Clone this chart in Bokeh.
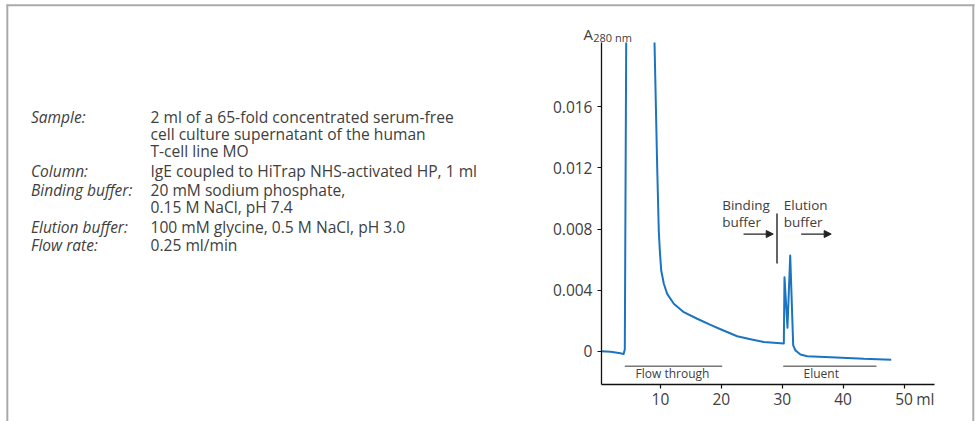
import numpy as np
from bokeh.plotting import figure
from bokeh.models import Range1d, FixedTicker, LinearAxis, Arrow, NormalHead
from bokeh.embed import file_html
from bokeh.resources import INLINE
from bokeh.core.properties import value

# ---------------- data ----------------
volume_ml = [0.31, 1.8, 3.43, 3.93, 4.14, 4.37, float("nan"), 9.02, 9.46, 9.72, 9.89,
             10.12, 10.55, 11.1, 12.19, 13.83, 16.03, 18.22, 19.86, 22.6, 24.79, 26.97, 30.26,
             30.37, 30.86, 31.31, 31.8, 32.18, 33.0, 34.1, 37.93, 43.4, 47.9]
a280 = [-0.00001, -0.00005, -0.00014, -0.0002, 0.0001, 0.02022, float("nan"), 0.02022,
        0.01205, 0.0079, 0.00659, 0.00528, 0.00441, 0.00375, 0.0031, 0.00255, 0.00212,
        0.00172, 0.00143, 0.00097, 0.00078, 0.0006, 0.0005,
        0.00484, 0.00153, 0.00626, 0.00037, 0.00004, -0.00022, -0.00034, -0.0004,
        -0.00051, -0.00056]

x_ticks = [10, 20, 30, 40, 50]
x_tick_labels = ["10", "20", "30", "40", "50"]
y_ticks = [0, 0.004, 0.008, 0.012, 0.016]
y_tick_labels = ["0", "0.004", "0.008", "0.012", "0.016"]

x_axis_bounds = (0.31, 55.0)          # ml
y_axis_bounds = (-0.00219, 0.02022)   # A280

flow_through = (4.14, 20.14)   # ml
eluent = (30.16, 45.48)        # ml
buffer_switch = 29.14          # ml

info_labels = ["Sample:", "Column:", "Binding buffer:", "Elution buffer:", "Flow rate:"]
info_values = [
    ["2 ml of a 65-fold concentrated serum-free", "cell culture supernatant of the human", "T-cell line MO"],
    ["IgE coupled to HiTrap NHS-activated HP, 1 ml"],
    ["20 mM sodium phosphate,", "0.15 M NaCl, pH 7.4"],
    ["100 mM glycine, 0.5 M NaCl, pH 3.0"],
    ["0.25 ml/min"],
]

# ---------------- layout constants ----------------
W, H = 975, 421
FONT = "Open Sans"
TXT = "#404040"
BLUE = "#1b74c0"
# chart scale: pixel position of ml = 0 and px per ml; pixel of A=0.008 and px per unit
X0_PX, PX_PER_ML = 599.1, 6.088
Y8_PX, PX_PER_A = 228.5, 15260.0

ml_range = Range1d((0 - X0_PX) / PX_PER_ML, (W - X0_PX) / PX_PER_ML)
a_range = Range1d(0.008 - (H - Y8_PX) / PX_PER_A, 0.008 + Y8_PX / PX_PER_A)

p = figure(width=W, height=H, x_range=Range1d(0, W), y_range=Range1d(H, 0),
           x_axis_type=None, y_axis_type=None, output_backend="svg",
           toolbar_location=None, min_border=0)
p.title.visible = False
p.grid.visible = False
p.outline_line_color = None
p.extra_x_ranges = {"ml": ml_range}
p.extra_y_ranges = {"abs": a_range}

# frame of the panel
p.segment(x0=[6, 6.8, 972.8], y0=[4.8, 4, 4], x1=[974, 6.8, 972.8], y1=[4.8, H, H],
          line_color="#ababab", line_width=2)

# ---- info text (left) ----
line_y = [116.7, 133.3, 150.3, 170.8, 189.2, 206.7, 226.3, 244.0]
k = 0
lx, ly, vx, vy, vt = [], [], [], [], []
for lab, vals in zip(info_labels, info_values):
    lx.append(30.5); ly.append(line_y[k])
    for v in vals:
        vx.append(150); vy.append(line_y[k]); vt.append(v)
        k += 1
p.text(x=lx, y=ly, text=info_labels, text_font=value(FONT), text_font_style="italic",
       text_font_size="15.5px", text_color=TXT, text_baseline="middle")
p.text(x=vx, y=vy, text=vt, text_font=value(FONT),
       text_font_size="15.6px", text_color=TXT, text_baseline="middle")

# ---- axes ----
xax = LinearAxis(x_range_name="ml", y_range_name="abs", fixed_location=y_axis_bounds[0],
                 bounds=x_axis_bounds, ticker=FixedTicker(ticks=x_ticks))
xax.major_label_overrides = dict(zip(x_ticks, x_tick_labels))
yax = LinearAxis(x_range_name="ml", y_range_name="abs", fixed_location=x_axis_bounds[0],
                 bounds=y_axis_bounds, ticker=FixedTicker(ticks=y_ticks))
yax.major_label_overrides = dict(zip(y_ticks, y_tick_labels))
for ax in (xax, yax):
    ax.axis_line_color = "#111111"
    ax.axis_line_width = 1.3
    ax.major_tick_line_color = "#111111"
    ax.major_tick_line_width = 1.2
    ax.major_tick_in = 0
    ax.major_tick_out = 4
    ax.minor_tick_line_color = None
    ax.major_label_text_font = FONT
    ax.major_label_text_font_size = "15.5px"
    ax.major_label_text_color = TXT
    ax.major_label_standoff = 5
p.add_layout(xax, "below")
p.add_layout(yax, "left")

# ---- chromatogram ----
p.line(np.array(volume_ml, dtype=float), np.array(a280, dtype=float),
       x_range_name="ml", y_range_name="abs", line_color=BLUE, line_width=2,
       line_join="round")

# flow through / eluent bars
bar_y = -0.00099
p.segment(x0=[flow_through[0], eluent[0]], y0=[bar_y, bar_y],
          x1=[flow_through[1], eluent[1]], y1=[bar_y, bar_y],
          x_range_name="ml", y_range_name="abs", line_color="#777777", line_width=1.6)
p.text(x=[11.97, 36.4], y=[-0.00147, -0.00147], text=["Flow through", "Eluent"],
       x_range_name="ml", y_range_name="abs", text_font=value(FONT), text_font_size="12px",
       text_color=TXT, text_align="center", text_baseline="middle")

# buffer switch
p.segment(x0=[buffer_switch], y0=[0.00902], x1=[buffer_switch], y1=[0.00574],
          x_range_name="ml", y_range_name="abs", line_color="#111111", line_width=1.3)
p.text(x=[20.14, 20.14, 30.26, 30.26], y=[0.00954, 0.00843, 0.00954, 0.00843],
       text=["Binding", "buffer", "Elution", "buffer"], x_range_name="ml", y_range_name="abs",
       text_font=value(FONT), text_font_size="13.5px", text_color=TXT, text_baseline="middle")
for x0, x1 in ((23.64, 28.52), (33.11, 38.04)):
    p.add_layout(Arrow(end=NormalHead(size=7, fill_color="#222222", line_color="#222222"),
                       x_start=x0, y_start=0.00767, x_end=x1, y_end=0.00767,
                       x_range_name="ml", y_range_name="abs",
                       line_color="#222222", line_width=1.3))

# axis titles
p.text(x=[-2.64], y=[0.02081], text=["A"], x_range_name="ml", y_range_name="abs",
       text_font=value(FONT), text_font_size="15px", text_color=TXT, text_baseline="alphabetic")
p.text(x=[-1.05], y=[0.02058], text=["280 nm"], x_range_name="ml", y_range_name="abs",
       text_font=value(FONT), text_font_size="11px", text_color=TXT, text_baseline="alphabetic")
p.text(x=[52.0], y=[-0.00317], text=["ml"], x_range_name="ml", y_range_name="abs",
       text_font=value(FONT), text_font_size="15.5px", text_color=TXT, text_baseline="middle")

open("out.html", "w").write(file_html(p, INLINE))
